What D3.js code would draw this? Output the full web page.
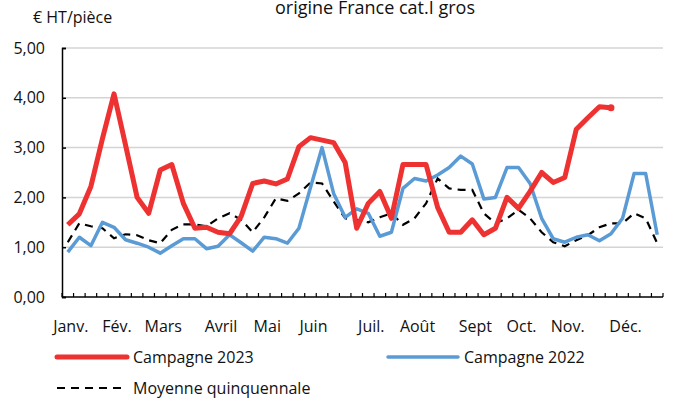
<!DOCTYPE html>
<html>
<head>
<meta charset="utf-8">
<script src="https://cdn.jsdelivr.net/npm/d3@7"></script>
<style>
  body { margin: 0; background: #fff; }
  svg text { font-family: "Open Sans", sans-serif; fill: #111; }
</style>
</head>
<body>
<svg id="chart" width="687" height="403"></svg>
<script>
// prix hebdomadaires, semaines 1..52
const campagne2023 = [1.45, 1.67, 2.22, 3.18, 4.08, 3.05, 2.0, 1.68, 2.55, 2.66,
  1.88, 1.38, 1.4, 1.3, 1.27, 1.62, 2.28, 2.33, 2.27, 2.37,
  3.02, 3.2, 3.15, 3.1, 2.7, 1.38, 1.88, 2.12, 1.58, 2.66,
  2.66, 2.66, 1.8, 1.3, 1.3, 1.55, 1.25, 1.38, 2.0, 1.78,
  2.12, 2.5, 2.3, 2.4, 3.37, 3.6, 3.82, 3.8];
const campagne2022 = [0.9, 1.2, 1.03, 1.5, 1.4, 1.15, 1.08, 1.0, 0.88, 1.03,
  1.17, 1.17, 0.97, 1.02, 1.25, 1.09, 0.92, 1.2, 1.17, 1.08,
  1.38, 2.2, 3.0, 2.08, 1.6, 1.77, 1.68, 1.22, 1.3, 2.18,
  2.38, 2.33, 2.45, 2.6, 2.83, 2.67, 1.97, 2.0, 2.6, 2.6,
  2.28, 1.58, 1.17, 1.1, 1.2, 1.25, 1.13, 1.27, 1.58, 2.48,
  2.48, 1.25];
const moyenne5ans = [1.1, 1.48, 1.42, 1.38, 1.18, 1.26, 1.24, 1.14, 1.08, 1.35,
  1.46, 1.46, 1.42, 1.58, 1.68, 1.55, 1.3, 1.6, 1.98, 1.93,
  2.08, 2.3, 2.28, 1.92, 1.58, 1.55, 1.5, 1.6, 1.68, 1.45,
  1.58, 1.88, 2.38, 2.18, 2.15, 2.15, 1.68, 1.48, 1.58, 1.75,
  1.58, 1.3, 1.1, 1.02, 1.14, 1.24, 1.4, 1.48, 1.48, 1.68,
  1.58, 1.08];
const months = ["Janv.", "Fév.", "Mars", "Avril", "Mai", "Juin", "Juil.", "Août", "Sept", "Oct.", "Nov.", "Déc."];
const monthWeeks = [1, 5, 9, 14, 18, 22, 27, 31, 36, 40, 44, 49];
const yTicks = [0, 1, 2, 3, 4, 5];

const weeks = d3.range(1, 53);
const svg = d3.select("#chart");
const plotLeft = 62, plotRight = 663, plotTop = 48, plotBottom = 297;

const x = d3.scaleBand().domain(weeks).range([plotLeft, plotRight]);
const y = d3.scaleLinear([0, 5], [plotBottom, plotTop]);
const fmt = v => d3.format(".2f")(v).replace(".", ",");

// grille
svg.append("g")
  .selectAll("line")
  .data(yTicks.filter(d => d > 0))
  .join("line")
  .attr("x1", plotLeft).attr("x2", plotRight)
  .attr("y1", d => y(d)).attr("y2", d => y(d))
  .attr("stroke", "#d4d4d4").attr("stroke-width", 1.5);

// axe Y
let yAxis = svg.append("g")
  .attr("transform", `translate(${plotLeft},0)`)
  .call(d3.axisLeft(y).tickValues(yTicks).tickFormat(fmt).tickSize(-4).tickPadding(17));
yAxis.select(".domain").attr("stroke", "#000").attr("stroke-width", 1.5);
yAxis.selectAll(".tick line").attr("stroke", "#000").attr("stroke-width", 1.5);
yAxis.selectAll("text").style("font-size", "16px").attr("fill", "#111");

// axe X : graduations par semaine
const weekEdges = d3.range(0, 53).map(i => plotLeft + i * x.step());
svg.append("g")
  .selectAll("line")
  .data(weekEdges)
  .join("line")
  .attr("x1", d => d).attr("x2", d => d)
  .attr("y1", plotBottom).attr("y2", plotBottom - 4)
  .attr("stroke", "#000").attr("stroke-width", 1.2);
svg.append("line")
  .attr("x1", plotLeft).attr("x2", plotRight)
  .attr("y1", plotBottom).attr("y2", plotBottom)
  .attr("stroke", "#000").attr("stroke-width", 1.5);

svg.append("g")
  .selectAll("text")
  .data(months)
  .join("text")
  .attr("x", (d, i) => x(monthWeeks[i]) + x.bandwidth() / 2 + 3)
  .attr("y", 332)
  .attr("text-anchor", "middle")
  .style("font-size", "16px")
  .text(d => d);

// titres
svg.append("text").attr("x", 375).attr("y", 14).attr("text-anchor", "middle")
  .style("font-size", "18px").text("origine France cat.I gros");
svg.append("text").attr("x", 33).attr("y", 23)
  .style("font-size", "16px").text("€ HT/pièce");

// séries
const line = d3.line()
  .x((d, i) => x(i + 1) + x.bandwidth() / 2)
  .y(d => y(d));

svg.append("path").datum(moyenne5ans)
  .attr("d", line).attr("fill", "none")
  .attr("stroke", "#000").attr("stroke-width", 2.2)
  .attr("stroke-dasharray", "8,6");
svg.append("path").datum(campagne2022)
  .attr("d", line).attr("fill", "none")
  .attr("stroke", "#5b9bd5").attr("stroke-width", 3.5)
  .attr("stroke-linejoin", "round");
svg.append("path").datum(campagne2023)
  .attr("d", line).attr("fill", "none")
  .attr("stroke", "#ee3131").attr("stroke-width", 5)
  .attr("stroke-linejoin", "round");
svg.append("circle")
  .attr("cx", x(campagne2023.length) + x.bandwidth() / 2)
  .attr("cy", y(campagne2023[campagne2023.length - 1]))
  .attr("r", 3.5).attr("fill", "#ee3131");

// légende
const legend = [
  { label: "Campagne 2023", color: "#ee3131", w: 5, dash: null, x: 57, y: 357 },
  { label: "Campagne 2022", color: "#5b9bd5", w: 3.5, dash: null, x: 388, y: 357 },
  { label: "Moyenne quinquennale", color: "#000", w: 2.2, dash: "8,6", x: 57, y: 388 }
];
let lg = svg.append("g").selectAll("g").data(legend).join("g")
  .attr("transform", d => `translate(${d.x},${d.y})`);
lg.append("line")
  .attr("x1", 0).attr("x2", 70)
  .attr("stroke", d => d.color).attr("stroke-width", d => d.w)
  .attr("stroke-linecap", d => d.dash ? "butt" : "round")
  .attr("stroke-dasharray", d => d.dash);
lg.append("text").attr("x", 76).attr("y", 6)
  .style("font-size", "16px").text(d => d.label);
</script>
</body>
</html>
